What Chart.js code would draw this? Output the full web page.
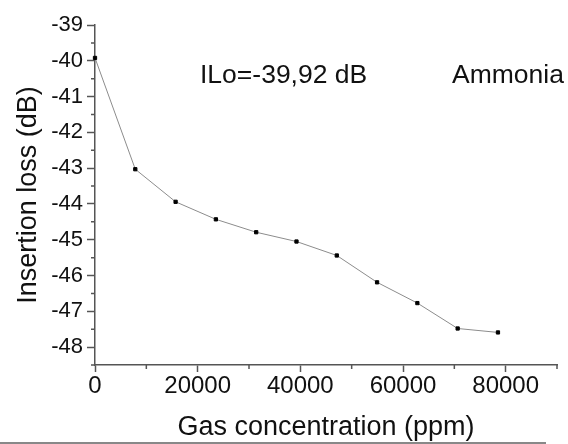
<!DOCTYPE html>
<html>
<head>
<meta charset="utf-8">
<script src="https://cdn.jsdelivr.net/npm/chart.js@4.4.1/dist/chart.umd.min.js"></script>
<style>
  html, body { margin: 0; padding: 0; background: #fff; }
  canvas { display: block; }
</style>
</head>
<body>
<canvas id="chart" width="568" height="444"></canvas>
<script>
// données
const concentration = [0, 7850, 15700, 23550, 31400, 39250, 47100, 54950, 62800, 70650, 78500];
const insertionLoss = [-39.92, -43.03, -43.94, -44.43, -44.79, -45.05, -45.44, -46.19, -46.77, -47.48, -47.59];
const xTicks = [0, 20000, 40000, 60000, 80000];
const yTicks = [-48, -47, -46, -45, -44, -43, -42, -41, -40, -39];

const axisColor = '#555';
const textColor = '#111';
const fam = '"Liberation Sans", Arial, sans-serif';

// petits traits intermédiaires + textes + filet du bas
const extras = {
  id: 'extras',
  afterDraw(chart) {
    const ctx = chart.ctx;
    const x = chart.scales.x, y = chart.scales.y;
    ctx.save();
    ctx.strokeStyle = axisColor;
    ctx.lineWidth = 1.5;
    ctx.beginPath();
    for (let v = 10000; v <= x.max; v += 20000) {
      const px = x.getPixelForValue(v);
      ctx.moveTo(px, x.top);
      ctx.lineTo(px, x.top + 4);
    }
    for (let v = -39.5; v >= y.min; v -= 1) {
      const py = y.getPixelForValue(v);
      ctx.moveTo(y.right, py);
      ctx.lineTo(y.right - 4, py);
    }
    ctx.stroke();

    ctx.fillStyle = textColor;
    ctx.font = '26.5px ' + fam;
    ctx.textBaseline = 'alphabetic';
    ctx.textAlign = 'left';
    ctx.fillText('ILo=-39,92 dB', 200, 83);
    ctx.fillText('Ammonia', 452, 83);

    ctx.strokeStyle = '#888';
    ctx.lineWidth = 2;
    ctx.beginPath();
    ctx.moveTo(0, 443);
    ctx.lineTo(546, 443);
    ctx.stroke();
    ctx.restore();
  }
};

new Chart(document.getElementById('chart').getContext('2d'), {
  type: 'line',
  data: {
    datasets: [{
      data: concentration.map((c, i) => ({ x: c, y: insertionLoss[i] })),
      borderColor: '#8c8c8c',
      borderWidth: 1,
      pointStyle: 'rect',
      pointRadius: 2.3,
      pointBackgroundColor: '#000',
      pointBorderColor: '#000',
      pointBorderWidth: 1,
      tension: 0,
      clip: false
    }]
  },
  options: {
    responsive: false,
    animation: false,
    devicePixelRatio: 1,
    layout: { padding: { top: 25, right: 11, left: 0, bottom: 0 } },
    plugins: { legend: { display: false }, tooltip: { enabled: false } },
    scales: {
      x: {
        type: 'linear',
        min: 0,
        max: 90000,
        afterBuildTicks: s => { s.ticks = xTicks.map(v => ({ value: v })); },
        afterFit: s => { s.height = 79; },
        border: { color: axisColor, width: 1.5 },
        grid: { drawOnChartArea: false, tickLength: 7, tickColor: axisColor, tickWidth: 1.5 },
        ticks: {
          color: textColor,
          padding: 0,
          maxRotation: 0,
          font: { family: fam, size: 24 },
          callback: v => String(v)
        },
        title: {
          display: true,
          text: 'Gas concentration (ppm)',
          color: textColor,
          font: { family: fam, size: 27, lineHeight: 1.2 },
          padding: { top: 0, bottom: 0 }
        }
      },
      y: {
        type: 'linear',
        min: -48.5,
        max: -39,
        afterBuildTicks: s => { s.ticks = yTicks.map(v => ({ value: v })); },
        afterFit: s => { s.width = 95; },
        border: { color: axisColor, width: 1.5 },
        grid: { drawOnChartArea: false, tickLength: 8, tickColor: axisColor, tickWidth: 1.5 },
        ticks: {
          color: textColor,
          padding: 4,
          font: { family: fam, size: 22 },
          callback: v => String(v)
        },
        title: {
          display: true,
          text: 'Insertion loss (dB)',
          color: textColor,
          font: { family: fam, size: 27, lineHeight: 1.2 },
          padding: { top: 12, bottom: 0 }
        }
      }
    }
  },
  plugins: [extras]
});
</script>
</body>
</html>
